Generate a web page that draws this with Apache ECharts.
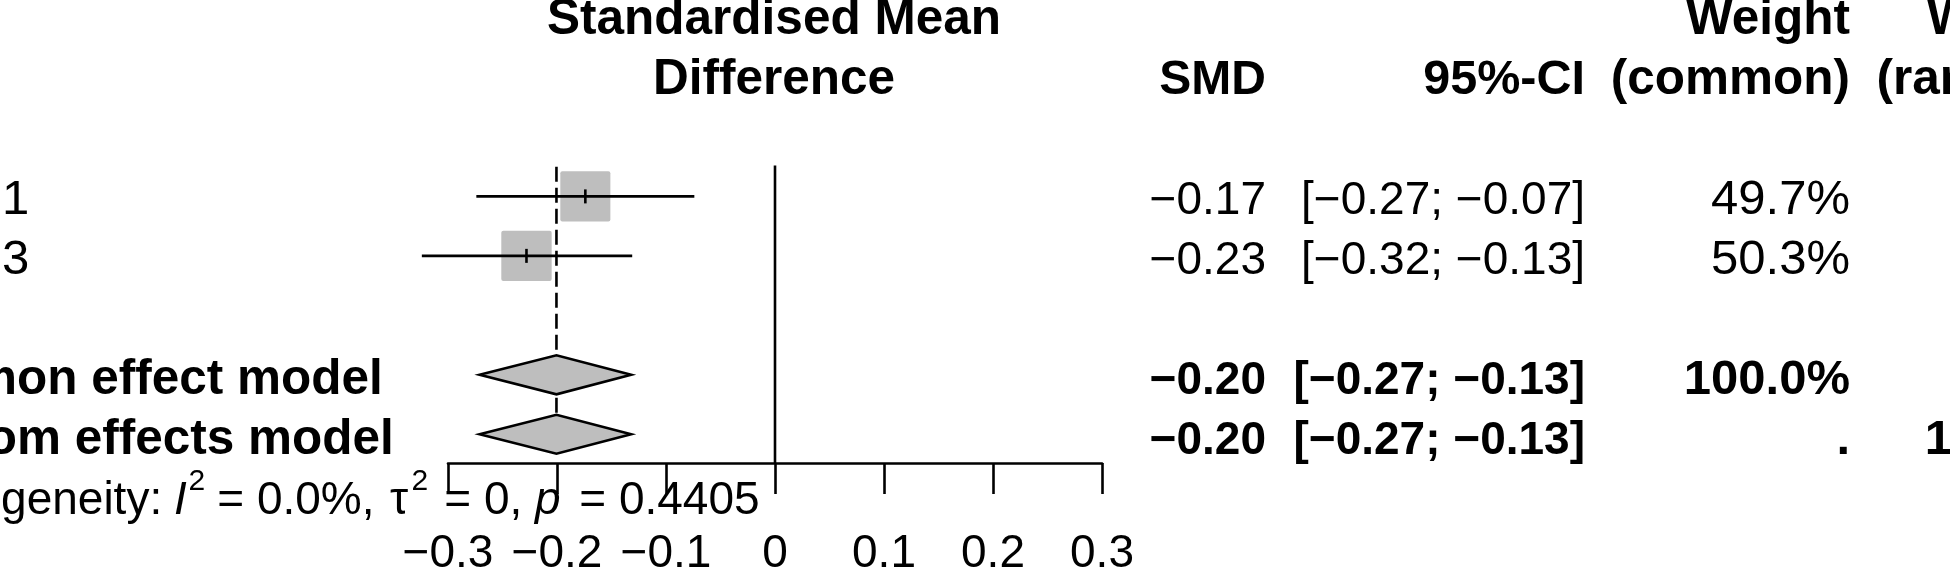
<!DOCTYPE html>
<html><head><meta charset="utf-8">
<script src="https://cdn.jsdelivr.net/npm/echarts@6/dist/echarts.min.js"></script>
<style>html,body{margin:0;padding:0;background:#fff}#c{width:1950px;height:577px}</style>
</head><body><div id="c"></div>
<script>
// ---------- data ----------
const studyLabels = ['Study 1', 'Study 3'];
const studySMD = [-0.174, -0.228];
const studyLower = [-0.274, -0.324];
const studyUpper = [-0.074, -0.131];
const studyWeightCommon = [49.7, 50.3];
const studyWeightRandom = [49.7, 50.3];
const modelLabels = ['Common effect model', 'Random effects model'];
const modelSMD = [-0.2005, -0.2005];
const modelLower = [-0.271, -0.271];
const modelUpper = [-0.132, -0.132];
const modelWeightCommon = ['100.0%', '.'];
const modelWeightRandom = ['.', '100.0%'];
const xTicks = [-0.3, -0.2, -0.1, 0, 0.1, 0.2, 0.3];
const xTickLabels = ['-0.3', '-0.2', '-0.1', '0', '0.1', '0.2', '0.3'];
const hetI2 = '0.0%';
const hetTau2 = '0';
const hetP = '0.4405';
const headerEffect = ['Standardised Mean', 'Difference'];
const headerSMD = 'SMD';
const headerCI = '95%-CI';
const headerWeightCommon = ['Weight', '(common)'];
const headerWeightRandom = ['Weight', '(random)'];

// ---------- layout ----------
const FF = '"Liberation Sans", Arial, Helvetica, sans-serif';
const FS_NUM = 46;     // numeric columns / axis / heterogeneity
const FS_LAB = 49.5;   // headings and labels
const FS_W = 49;       // weight columns
const studyRows = [3, 4];
const modelRows = [6, 7];
const baseY = k => 37 + 60 * k;            // text baseline of row k
const midY = (k, fs) => baseY(k) - 0.3465 * fs;
const minus = s => String(s).replace(/-/g, '\u2212');
const fmt = v => minus(v.toFixed(2));
const pct = v => v.toFixed(1) + '%';

const X_LABEL = -137, X_SMD = 1266, X_CI = 1585, X_WC = 1850, X_WR = 2091, X_MID = 774;

const chart = echarts.init(document.getElementById('c'), null, {renderer: 'canvas'});

function txt(text, x, k, align, bold, fs, italic) {
  return {
    type: 'text', x: x, y: midY(k, fs), silent: true,
    style: {
      text: text, fill: '#000', fontSize: fs, fontFamily: FF,
      fontWeight: bold ? 'bold' : 'normal', fontStyle: italic ? 'italic' : 'normal',
      align: align, verticalAlign: 'middle',
      textAlign: align, textVerticalAlign: 'middle'
    }
  };
}

const graphics = [];
// headers
graphics.push(txt(headerEffect[0], X_MID, 0, 'center', true, FS_LAB));
graphics.push(txt(headerEffect[1], X_MID, 1, 'center', true, FS_LAB));
graphics.push(txt(headerSMD, X_SMD, 1, 'right', true, 48));
graphics.push(txt(headerCI, X_CI, 1, 'right', true, 48.5));
graphics.push(txt(headerWeightCommon[0], X_WC, 0, 'right', true, FS_LAB));
graphics.push(txt(headerWeightCommon[1], X_WC, 1, 'right', true, FS_LAB));
graphics.push(txt(headerWeightRandom[0], X_WR, 0, 'right', true, FS_LAB));
graphics.push(txt(headerWeightRandom[1], X_WR, 1, 'right', true, FS_LAB));
// studies
studyLabels.forEach((lab, i) => {
  const k = studyRows[i];
  graphics.push(txt(lab, X_LABEL, k, 'left', false, 49));
  graphics.push(txt(fmt(studySMD[i]), X_SMD, k, 'right', false, FS_NUM));
  graphics.push(txt('[' + fmt(studyLower[i]) + '; ' + fmt(studyUpper[i]) + ']', X_CI, k, 'right', false, FS_NUM));
  graphics.push(txt(pct(studyWeightCommon[i]), X_WC, k, 'right', false, FS_W));
  graphics.push(txt(pct(studyWeightRandom[i]), X_WR, k, 'right', false, FS_W));
});
// pooled models
modelLabels.forEach((lab, i) => {
  const k = modelRows[i];
  graphics.push(txt(lab, X_LABEL, k, 'left', true, FS_LAB));
  graphics.push(txt(fmt(modelSMD[i]), X_SMD, k, 'right', true, FS_NUM));
  graphics.push(txt('[' + fmt(modelLower[i]) + '; ' + fmt(modelUpper[i]) + ']', X_CI, k, 'right', true, FS_NUM));
  graphics.push(txt(modelWeightCommon[i], X_WC, k, 'right', true, FS_W));
  graphics.push(txt(modelWeightRandom[i], X_WR, k, 'right', true, FS_W));
});
// heterogeneity line with superscripts (segment x positions are layout)
(function () {
  const SUP = 30;
  const segs = [
    {t: 'Heterogeneity: ', x: -137, it: false, fs: FS_NUM, sup: false},
    {t: 'I', x: 174, it: true, fs: FS_NUM, sup: false},
    {t: '2', x: 188.5, it: false, fs: SUP, sup: true},
    {t: ' = ' + hetI2 + ',', x: 204.5, it: false, fs: FS_NUM, sup: false},
    {t: '\u03c4', x: 390, it: false, fs: FS_NUM, sup: false},
    {t: '2', x: 411.5, it: false, fs: SUP, sup: true},
    {t: ' = ' + hetTau2 + ',', x: 431.5, it: false, fs: FS_NUM, sup: false},
    {t: 'p', x: 535, it: true, fs: FS_NUM, sup: false},
    {t: ' = ' + hetP, x: 566.5, it: false, fs: FS_NUM, sup: false}
  ];
  const k = 8;
  segs.forEach(s => {
    const base = s.sup ? baseY(k) - 25 : baseY(k);
    graphics.push({
      type: 'text', x: s.x, y: base - 0.3465 * s.fs, silent: true,
      style: {
        text: s.t, fill: '#000', fontSize: s.fs, fontFamily: FF,
        fontStyle: s.it ? 'italic' : 'normal',
        align: 'left', verticalAlign: 'middle', textAlign: 'left', textVerticalAlign: 'middle'
      }
    });
  });
})();

const LW = 2.6;
const GRAY = '#BEBEBE';
const AXIS_ROW = 7.4833;

const option = {
  animation: false,
  backgroundColor: '#fff',
  grid: {left: 448, right: 848, top: 18, bottom: 110, containLabel: false},
  xAxis: {
    type: 'value', min: -0.3, max: 0.3, interval: 0.1, position: 'bottom',
    axisLine: {show: true, onZero: false, lineStyle: {color: '#000', width: LW}},
    axisTick: {show: true, length: 31, lineStyle: {color: '#000', width: LW}},
    axisLabel: {
      margin: 68, fontSize: FS_NUM, fontFamily: FF, color: '#000', lineHeight: FS_NUM,
      formatter: v => {
        const i = xTicks.findIndex(t => Math.abs(t - v) < 1e-9);
        return i >= 0 ? minus(xTickLabels[i]) : '';
      }
    },
    splitLine: {show: false}
  },
  yAxis: {type: 'value', inverse: true, min: 0, max: AXIS_ROW, show: false},
  graphic: graphics,
  series: [
    { // dashed line at the common effect estimate
      type: 'custom', clip: false, silent: true,
      data: [[modelSMD[0]]],
      encode: {x: 0},
      renderItem: (params, api) => {
        const a = api.coord([api.value(0), 2.5]);
        const b = api.coord([api.value(0), modelRows[1] + 0.33]);
        return {type: 'line', shape: {x1: a[0], y1: a[1], x2: b[0], y2: b[1]},
          style: {stroke: '#000', lineWidth: LW, lineDash: [15, 6]}};
      }
    },
    { // line of no effect
      type: 'custom', clip: false, silent: true,
      data: [[0]],
      encode: {x: 0},
      renderItem: (params, api) => {
        const a = api.coord([api.value(0), 2.48]);
        const b = api.coord([api.value(0), AXIS_ROW]);
        return {type: 'line', shape: {x1: a[0], y1: a[1], x2: b[0], y2: b[1]},
          style: {stroke: '#000', lineWidth: LW}};
      }
    },
    { // individual studies
      type: 'custom', clip: false, silent: true,
      data: studySMD.map((v, i) => [v, studyLower[i], studyUpper[i], studyRows[i], studyWeightCommon[i]]),
      encode: {x: [0, 1, 2], y: 3},
      renderItem: (params, api) => {
        const row = api.value(3);
        const c = api.coord([api.value(0), row]);
        const l = api.coord([api.value(1), row]);
        const h = api.coord([api.value(2), row]);
        const s = 7.1 * Math.sqrt(api.value(4));
        return {type: 'group', children: [
          {type: 'rect', shape: {x: c[0] - s / 2, y: c[1] - s / 2, width: s, height: s, r: 2}, style: {fill: GRAY}},
          {type: 'line', shape: {x1: l[0], y1: c[1], x2: h[0], y2: c[1]}, style: {stroke: '#000', lineWidth: LW}},
          {type: 'line', shape: {x1: c[0], y1: c[1] - 7, x2: c[0], y2: c[1] + 7}, style: {stroke: '#000', lineWidth: LW}}
        ]};
      }
    },
    { // pooled diamonds
      type: 'custom', clip: false, silent: true,
      data: modelSMD.map((v, i) => [v, modelLower[i], modelUpper[i], modelRows[i]]),
      encode: {x: [0, 1, 2], y: 3},
      renderItem: (params, api) => {
        const row = api.value(3);
        const c = api.coord([api.value(0), row]);
        const l = api.coord([api.value(1), row]);
        const h = api.coord([api.value(2), row]);
        const hh = 19.5;
        return {type: 'polygon',
          shape: {points: [[l[0], c[1]], [c[0], c[1] - hh], [h[0], c[1]], [c[0], c[1] + hh]]},
          style: {fill: GRAY, stroke: '#000', lineWidth: LW, lineJoin: 'miter'}};
      }
    }
  ]
};
chart.setOption(option);
</script>
</body></html>
